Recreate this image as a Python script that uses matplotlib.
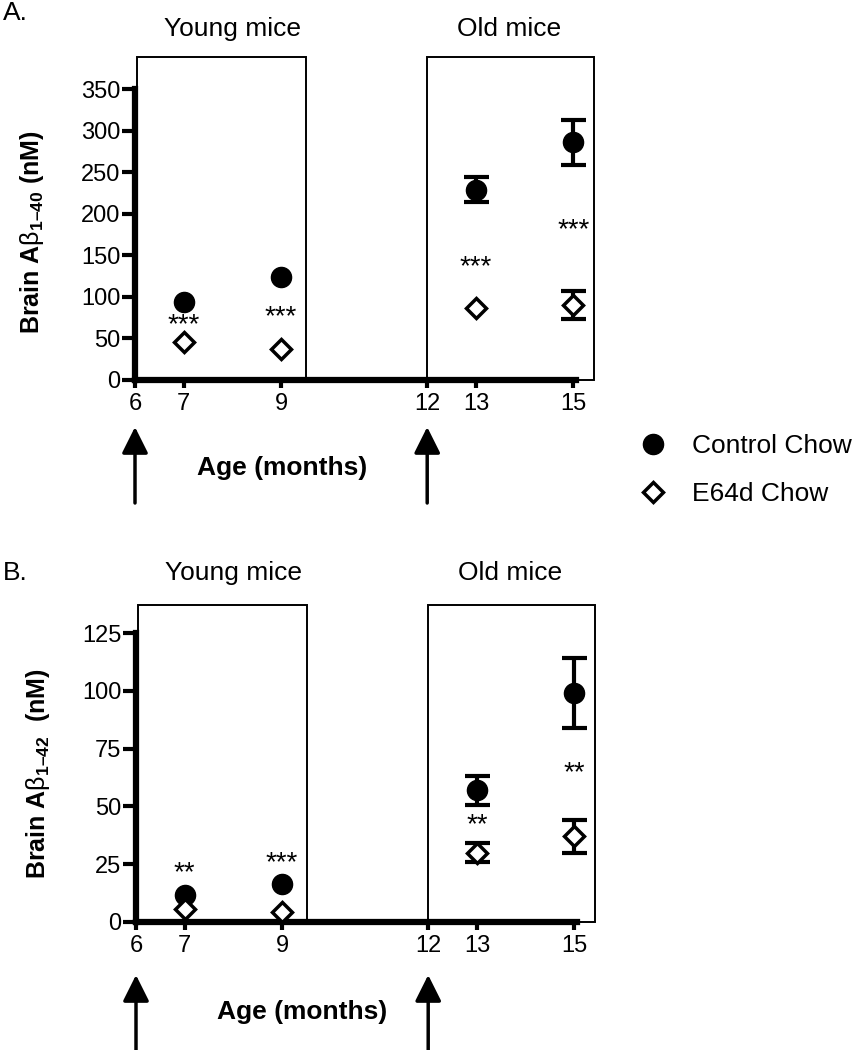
import matplotlib
matplotlib.use("Agg")
import matplotlib.pyplot as plt
from matplotlib.lines import Line2D
from matplotlib.patches import Rectangle

plt.rcParams['font.family'] = ['Liberation Sans', 'DejaVu Sans']
plt.rcParams['mathtext.fontset'] = 'custom'
plt.rcParams['mathtext.rm'] = 'Liberation Sans'
plt.rcParams['mathtext.bf'] = 'Liberation Sans:bold'

# ---------------- data ----------------
ages = [7, 9, 13, 15]
xticks = [6, 7, 9, 12, 13, 15]

# Panel A: Abeta 1-40
a_control = [94, 124, 229, 286]
a_control_err = [0, 0, 15, 27]
a_e64d = [46, 37, 87, 90]
a_e64d_err = [0, 0, 0, 17]
a_stars = ["***", "***", "***", "***"]
a_star_y = [66, 75, 136, 180]
a_yticks = [0, 50, 100, 150, 200, 250, 300, 350]

# Panel B: Abeta 1-42
b_control = [11.7, 16.4, 57, 99]
b_control_err = [0, 0, 6.3, 15]
b_e64d = [5.6, 4.3, 30, 37]
b_e64d_err = [0, 0, 4.1, 7.2]
b_stars = ["**", "***", "**", "**"]
b_star_y = [21, 25.5, 42, 64.5]
b_yticks = [0, 25, 50, 75, 100, 125]

W, H = 856, 1050
fig = plt.figure(figsize=(W / 100, H / 100), dpi=100)


def fx(px):
    return px / W


def fy(py):
    return 1 - py / H


def errbars(ax, xs, ys, errs):
    sel = [(x, y, e) for x, y, e in zip(xs, ys, errs) if e > 0]
    if sel:
        ax.errorbar([s[0] for s in sel], [s[1] for s in sel],
                    yerr=[s[2] for s in sel], fmt='none', ecolor='black',
                    elinewidth=3, capsize=9, capthick=3, zorder=4,
                    clip_on=False)


def make_panel(left_px, bottom_px, top_px, ymax, yticks, control, control_err,
               e64d, e64d_err, stars, star_y, box_top, ylabel, ylab_xy,
               title_base, age_xy, arrow_top, arrow_tail):
    x0, x1 = 6, 15.06
    ppm = 48.7
    ax = fig.add_axes([fx(left_px), fy(bottom_px),
                       (x1 - x0) * ppm / W, (bottom_px - top_px) / H])
    ax.set_xlim(x0, x1)
    ax.set_ylim(0, ymax)
    for s in ['top', 'right']:
        ax.spines[s].set_visible(False)
    for s in ['left', 'bottom']:
        ax.spines[s].set_linewidth(4.5)
    ax.set_xticks(xticks)
    ax.set_yticks(yticks)
    ax.tick_params(axis='y', length=9.5, width=3, labelsize=17, pad=1)
    ax.tick_params(axis='x', length=6, width=3, labelsize=17, pad=3)
    ax.patch.set_visible(False)

    # boxes
    for bx0, bx1 in [(6.05, 9.51), (12.0, 15.42)]:
        ax.add_patch(Rectangle((bx0, 0), bx1 - bx0, box_top, fill=False,
                               lw=1.4, ec='black', clip_on=False, zorder=1))

    errbars(ax, ages, control, control_err)
    errbars(ax, ages, e64d, e64d_err)
    ax.plot(ages, control, 'o', color='black', ms=14.5, zorder=5, clip_on=False)
    ax.plot(ages, e64d, 'D', mfc='white', mec='black', mew=2.5, ms=10,
            zorder=5, clip_on=False)
    for x, s, y in zip(ages, stars, star_y):
        ax.text(x, y, s, ha='center', va='center', fontsize=20)

    fig.text(fx(left_px + (8.0 - 6) * ppm), fy(title_base), "Young mice",
             ha='center', va='baseline', fontsize=19)
    fig.text(fx(left_px + (13.68 - 6) * ppm), fy(title_base), "Old mice",
             ha='center', va='baseline', fontsize=19)

    fig.text(fx(ylab_xy[0]), fy(ylab_xy[1]), ylabel, rotation=90,
             ha='center', va='center', fontsize=18, fontweight='bold')
    fig.text(fx(age_xy[0]), fy(age_xy[1]), "Age (months)", ha='center',
             va='center', fontsize=19, fontweight='bold')

    for xa in [6, 12]:
        ax.annotate('', xy=(xa, fy(arrow_top)), xycoords=('data', 'figure fraction'),
                    xytext=(xa, fy(arrow_tail)), textcoords=('data', 'figure fraction'),
                    arrowprops=dict(arrowstyle='-|>,head_length=0.8,head_width=0.4',
                                    lw=2.5, color='black', shrinkA=0, shrinkB=0,
                                    mutation_scale=20),
                    annotation_clip=False)
    return ax


axA = make_panel(135, 380, 89, 350, a_yticks, a_control, a_control_err,
                 a_e64d, a_e64d_err, a_stars, a_star_y, 388,
                 r"Brain A$\mathrm{β}_{\mathbf{1–40}}$ (nM)", (32, 232), 36,
                 (282, 468), 427, 503)
fig.text(fx(3), fy(20), "A.", fontsize=19, va='baseline')

axB = make_panel(136, 922, 633, 125, b_yticks, b_control, b_control_err,
                 b_e64d, b_e64d_err, b_stars, b_star_y, 137,
                 r"Brain A$\mathrm{β}_{\mathbf{1–42}}$  (nM)", (38, 774), 580,
                 (302, 1012), 975, 1052)
fig.text(fx(3), fy(580), "B.", fontsize=19, va='baseline')

# legend
handles = [Line2D([], [], marker='o', ls='none', color='black', ms=14.5),
           Line2D([], [], marker='D', ls='none', mfc='white', mec='black',
                  mew=2.5, ms=10)]
fig.legend(handles, ["Control Chow", "E64d Chow"], loc='center left',
           bbox_to_anchor=(fx(613), fy(470)), frameon=False, fontsize=19,
           handlelength=1.2, handletextpad=0.9, labelspacing=0.9)

fig.savefig("out.png", dpi=100)
